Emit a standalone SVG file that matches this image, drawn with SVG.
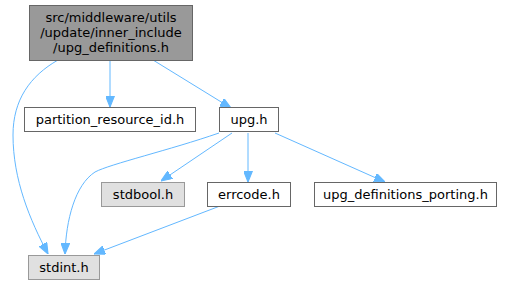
<svg xmlns="http://www.w3.org/2000/svg" width="506" height="285" viewBox="0 0 506 285">
<defs>
<style>
text{font-family:"DejaVu Sans",sans-serif;font-size:13px;text-anchor:middle;fill:#000}
.n{fill:#fff;stroke:#666}
.g{fill:#e0e0e0;stroke:#999}
.e{fill:none;stroke:#63b8ff}
</style>
<marker id="a" viewBox="0 0 10 8" refX="10" refY="4" markerWidth="11" markerHeight="9" markerUnits="userSpaceOnUse" orient="auto">
<path d="M0,0 L10,4 L0,8 Z" fill="#63b8ff" stroke="#63b8ff"/>
</marker>
</defs>
<rect width="506" height="285" fill="#fff"/>
<g id="edges">
<path class="e" marker-end="url(#a)" d="M58,60 C30,76 13,100 13,135 C13,180 30,220 48,254"/>
<path class="e" marker-end="url(#a)" d="M110,60 L110,107"/>
<path class="e" marker-end="url(#a)" d="M153,60 L231,108"/>
<path class="e" marker-end="url(#a)" d="M219,133 C170,150 110,164 95,172 C75,185 66,220 65,254"/>
<path class="e" marker-end="url(#a)" d="M232,133 L161,181"/>
<path class="e" marker-end="url(#a)" d="M248,133 L248,182"/>
<path class="e" marker-end="url(#a)" d="M275,133 L385,182"/>
<path class="e" marker-end="url(#a)" d="M220,206 L94,254"/>
</g>
<g id="upg_definitions">
<rect x="29.5" y="5.5" width="163" height="55" fill="#999" stroke="#666"/>
<text x="111" y="22">src/middleware/utils</text>
<text x="111" y="37">/update/inner_include</text>
<text x="111" y="52">/upg_definitions.h</text>
</g>
<g id="partition_resource_id">
<rect class="n" x="24.5" y="107.5" width="171" height="24"/>
<text x="110" y="124">partition_resource_id.h</text>
</g>
<g id="upg">
<rect class="n" x="219.5" y="107.5" width="59" height="24"/>
<text x="249" y="124">upg.h</text>
</g>
<g id="stdbool">
<rect class="g" x="101.5" y="182.5" width="83" height="24"/>
<text x="143" y="199">stdbool.h</text>
</g>
<g id="errcode">
<rect class="n" x="207.5" y="182.5" width="83" height="24"/>
<text x="249" y="199">errcode.h</text>
</g>
<g id="upg_definitions_porting">
<rect class="n" x="314.5" y="182.5" width="182" height="24"/>
<text x="405.5" y="199">upg_definitions_porting.h</text>
</g>
<g id="stdint">
<rect class="g" x="28.5" y="255.5" width="71" height="24"/>
<text x="64" y="272">stdint.h</text>
</g>
</svg>
